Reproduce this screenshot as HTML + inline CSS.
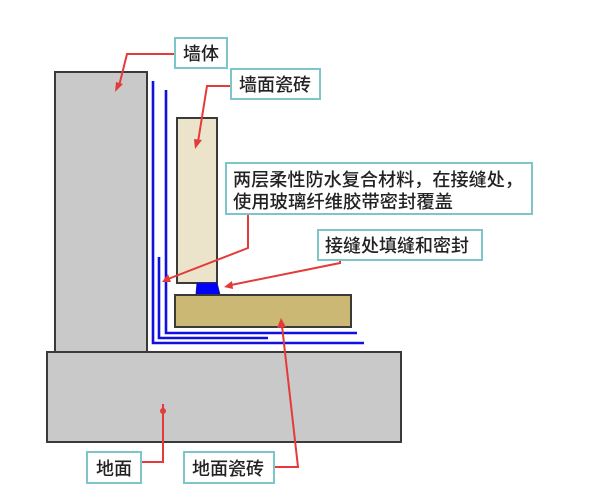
<!DOCTYPE html>
<html><head><meta charset="utf-8"><style>
html,body{margin:0;padding:0;background:#fff;}
svg{display:block;}
text{font-family:"Liberation Sans","Noto Sans CJK SC",sans-serif;fill:#222;font-weight:500;}
</style></head><body>
<svg width="603" height="494" viewBox="0 0 603 494" xmlns="http://www.w3.org/2000/svg">
<rect width="603" height="494" fill="#fff"/>
<!-- wall -->
<rect x="55" y="72" width="92" height="280" fill="#c9c9c9" stroke="#3a3a3a" stroke-width="2"/>
<!-- floor -->
<rect x="47" y="352" width="354" height="90" fill="#c9c9c9" stroke="#3a3a3a" stroke-width="2"/>
<!-- blue membranes -->
<g fill="none" stroke="#1010e0" stroke-width="2.6">
<polyline points="153,81 153,343 364,343"/>
<polyline points="159,257 159,338 268,338"/>
<polyline points="166,90 166,333 357,333"/>
</g>
<!-- wall tile -->
<rect x="177" y="118" width="40" height="165" fill="#ebe4cb" stroke="#3a3a3a" stroke-width="2"/>
<!-- sealant -->
<polygon points="197,283 217,283 220,295 196,295" fill="#0000ff" stroke="#1a1a80" stroke-width="1"/>
<!-- floor tile -->
<rect x="175" y="295" width="176" height="32" fill="#cbb874" stroke="#3a3a3a" stroke-width="2"/>
<!-- red leaders -->
<g fill="none" stroke="#e53a3a" stroke-width="2">
<polyline points="175,54 127,54 119,86"/>
<polyline points="231,86 207,86 198,142"/>
<polyline points="248,214 248,248 168,279"/>
<polyline points="340,260 340,263 231,285"/>
<polyline points="274,467 298,467 282,326"/>
<polyline points="141,462 163,462 163,404"/>
</g>
<g fill="#e53a3a">
<polygon points="115,92 116,82 123,84"/>
<polygon points="195,149 194,139 202,140"/>
<polygon points="162,282 168,274 171,282"/>
<polygon points="224,287 232,281 233,289"/>
<polygon points="281,318 277,328 286,327"/>
<circle cx="163" cy="411" r="3"/>
</g>
<!-- label boxes -->
<g fill="#fff" stroke="#7cc6ca" stroke-width="2">
<rect x="175" y="38" width="52" height="30"/>
<rect x="231" y="69" width="89" height="30"/>
<rect x="226" y="163" width="306" height="51"/>
<rect x="318" y="230" width="164" height="30"/>
<rect x="87" y="452" width="54" height="31"/>
<rect x="184" y="452" width="90" height="31"/>
</g>
<g font-size="18">
<text x="183" y="60">墙体</text>
<text x="239" y="91">墙面瓷砖</text>
<text x="233" y="186" textLength="290" lengthAdjust="spacingAndGlyphs">两层柔性防水复合材料，在接缝处，</text>
<text x="233" y="208" textLength="220" lengthAdjust="spacingAndGlyphs">使用玻璃纤维胶带密封覆盖</text>
<text x="325" y="252">接缝处填缝和密封</text>
<text x="96" y="475">地面</text>
<text x="192" y="475">地面瓷砖</text>
</g>
</svg>
</body></html>
